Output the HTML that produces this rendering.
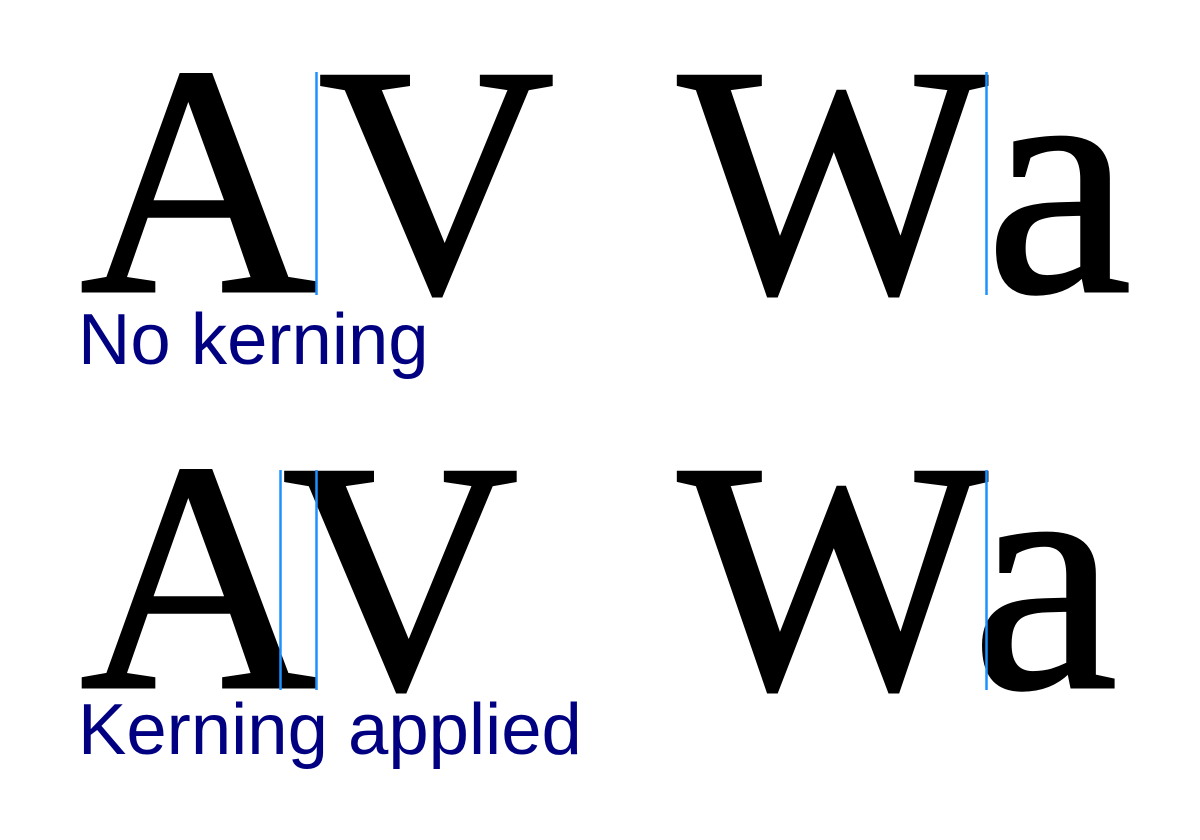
<!DOCTYPE html>
<html><head><meta charset="utf-8"><style>html,body{margin:0;padding:0;background:#fff}</style></head>
<body>
<svg width="1200" height="835" viewBox="0 0 1200 835" xmlns="http://www.w3.org/2000/svg">
<g font-family="Liberation Serif, serif" font-size="328" fill="#000" stroke="#000" stroke-width="3">
<text x="80" y="291">A</text>
<text x="318" y="291">V</text>
<text x="678" y="291">W</text>
<text x="986" y="291">a</text>
<text x="80" y="687">A</text>
<text x="282" y="687">V</text>
<text x="678" y="687">W</text>
<text x="972" y="687">a</text>
</g>
<g stroke="#1e90ff" stroke-width="2.5">
<line x1="316.5" y1="72" x2="316.5" y2="295"/>
<line x1="986.5" y1="72" x2="986.5" y2="295"/>
<line x1="280.5" y1="470" x2="280.5" y2="690"/>
<line x1="316.5" y1="470" x2="316.5" y2="690"/>
<line x1="986.5" y1="470" x2="986.5" y2="690"/>
</g>
<g font-family="Liberation Sans, sans-serif" font-size="72.5" fill="#000080">
<text x="78" y="364">No kerning</text>
<text x="78" y="754">Kerning applied</text>
</g>
</svg>
</body></html>
